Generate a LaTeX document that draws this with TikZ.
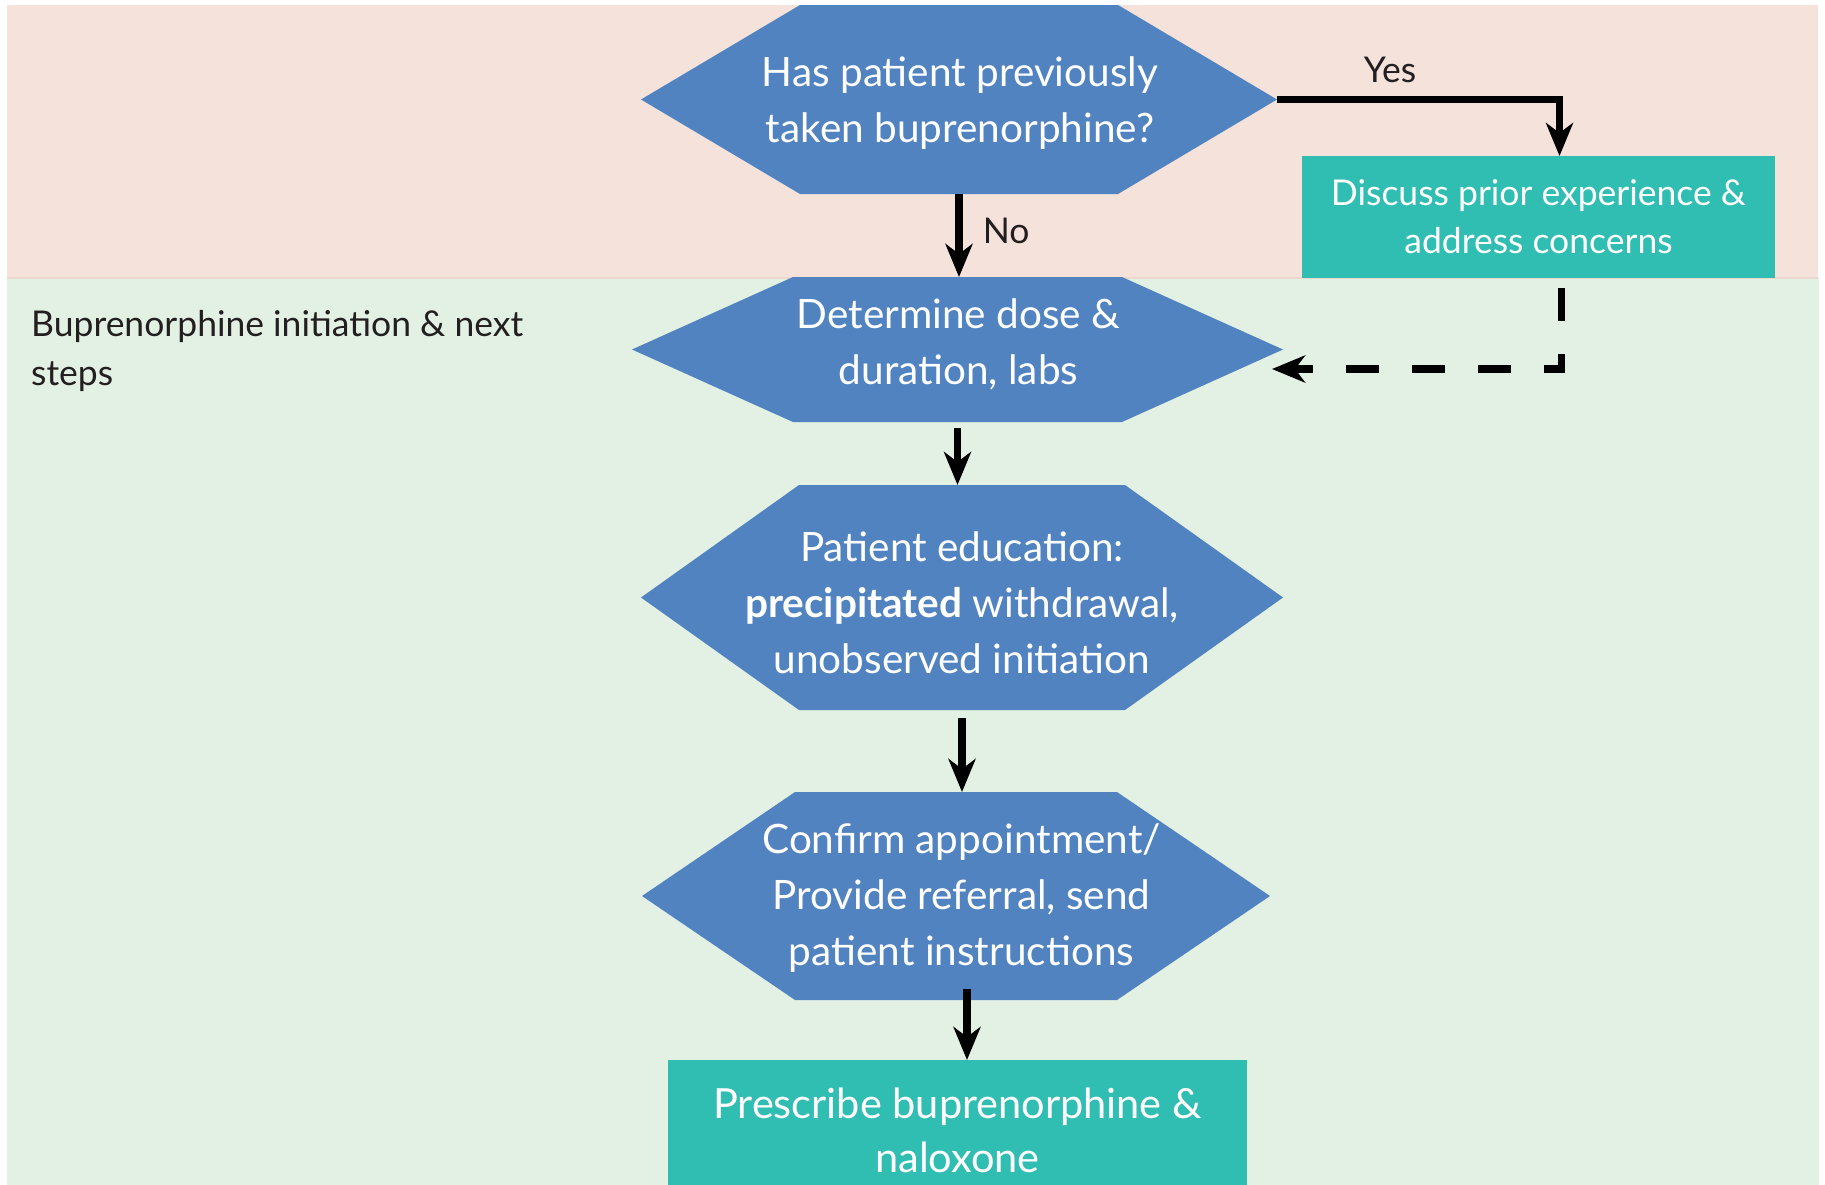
\documentclass[tikz,border=0pt]{standalone}
\usepackage{fontspec}
\setmainfont{Lato}
\usetikzlibrary{arrows.meta,calc}
\definecolor{hexblue}{HTML}{5283C1}
\definecolor{teal2}{HTML}{31BEB2}
\definecolor{pinkbg}{HTML}{F4E2DB}
\definecolor{greenbg}{HTML}{E2F1E3}
\definecolor{bordertan}{HTML}{EAD8CC}
\definecolor{darktext}{HTML}{231F20}
\newcommand{\hexfont}{\fontsize{40.5}{56}\selectfont}
\newcommand{\boxfont}{\fontsize{35.5}{48}\selectfont}
\newcommand{\bigboxfont}{\fontsize{41.5}{54}\selectfont}
\newcommand{\lblfont}{\fontsize{35.5}{49}\selectfont}
\tikzset{
  hexshape/.style={inner sep=0pt, outer sep=0pt,
    path picture={\fill[hexblue] (path picture bounding box.west)
      -- ([xshift=#1]path picture bounding box.north west)
      -- ([xshift=-#1]path picture bounding box.north east)
      -- (path picture bounding box.east)
      -- ([xshift=-#1]path picture bounding box.south east)
      -- ([xshift=#1]path picture bounding box.south west) -- cycle;}},
  hextext/.style={inner sep=0pt, text=white, align=center, font=\hexfont},
  tealbox/.style={fill=teal2, inner sep=0pt, outer sep=0pt, text=white, align=center},
  arr/.style={line width=7.5pt, -{Stealth[length=33pt,width=27pt,inset=10pt]}},
  dasharr/.style={arr, dash pattern=on 33pt off 33pt},
  lbl/.style={text=darktext, font=\lblfont, inner sep=0pt}
}
\begin{document}
\begin{tikzpicture}[x=1pt,y=-1pt]
\useasboundingbox (0,0) rectangle (1825,1184);
\clip (0,0) rectangle (1825,1184);
% background bands
\fill[pinkbg] (7,5) rectangle (1818,278);
\fill[greenbg] (7,278) rectangle (1819,1190);
\draw[bordertan, line width=2pt] (7,278) -- (1818,278);

% hexagon shapes
\node[hexshape=159, minimum width=636, minimum height=189] (h1) at (959,99.5) {};
\node[hexshape=161, minimum width=651, minimum height=145] (h2) at (957.5,349.5) {};
\node[hexshape=158, minimum width=642, minimum height=225] (h3) at (962,597.5) {};
\node[hexshape=153, minimum width=628, minimum height=208] (h4) at (956,896) {};
% hexagon texts
\node[hextext] (t1) at (960,103.5) {Has patient previously\\taken buprenorphine?};
\node[hextext] (t2) at (958.5,344.5) {Determine dose \&\\duration, labs};
\node[hextext] (t3) at (962,603) {Patient education:\\\textbf{precipitated} withdrawal,\\unobserved initiation};
\node[hextext] (t4) at (961.5,898.5) {Confirm appointment/\\Provide referral, send\\patient instructions};
% boxes
\node[tealbox, font=\boxfont, minimum width=473, minimum height=122] (b1) at (1538.5,217)
  {Discuss prior experience \&\\address concerns};
\node[tealbox, font=\bigboxfont, minimum width=579, minimum height=140] (b2) at (957.5,1130)
  {Prescribe buprenorphine \&\\naloxone};
\node[lbl, anchor=north west, align=left] (side) at (31,310)
  {Buprenorphine initiation \& next\\steps};

% connectors
\draw[arr] (h1.south) -- (h1.south |- h2.north) node[lbl, anchor=base west, pos=0.5, xshift=20pt, yshift=-8pt] (no) {No};
\draw[arr] (h1.east) -| ($(b1.north)+(21,0)$) node[lbl, anchor=base, pos=0.2, yshift=17pt] (yes) {Yes};
\coordinate (dcorner) at ($(b1.south)+(23,91)$);
\coordinate (dend) at ($(h2.east)+(-11,19.5)$);
\draw[dasharr] ($(b1.south)+(23,10)$) -- (dcorner) -- (dend);
\draw[arr, shorten <=6pt] (h2.south) -- (h2.south |- h3.north);
\draw[arr, shorten <=8pt] (h3.south) -- (h3.south |- h4.north);
\coordinate (a4s) at ($(h4.south)+(11,-11)$);
\draw[arr] (a4s) -- (a4s |- b2.north);
\end{tikzpicture}
\end{document}
